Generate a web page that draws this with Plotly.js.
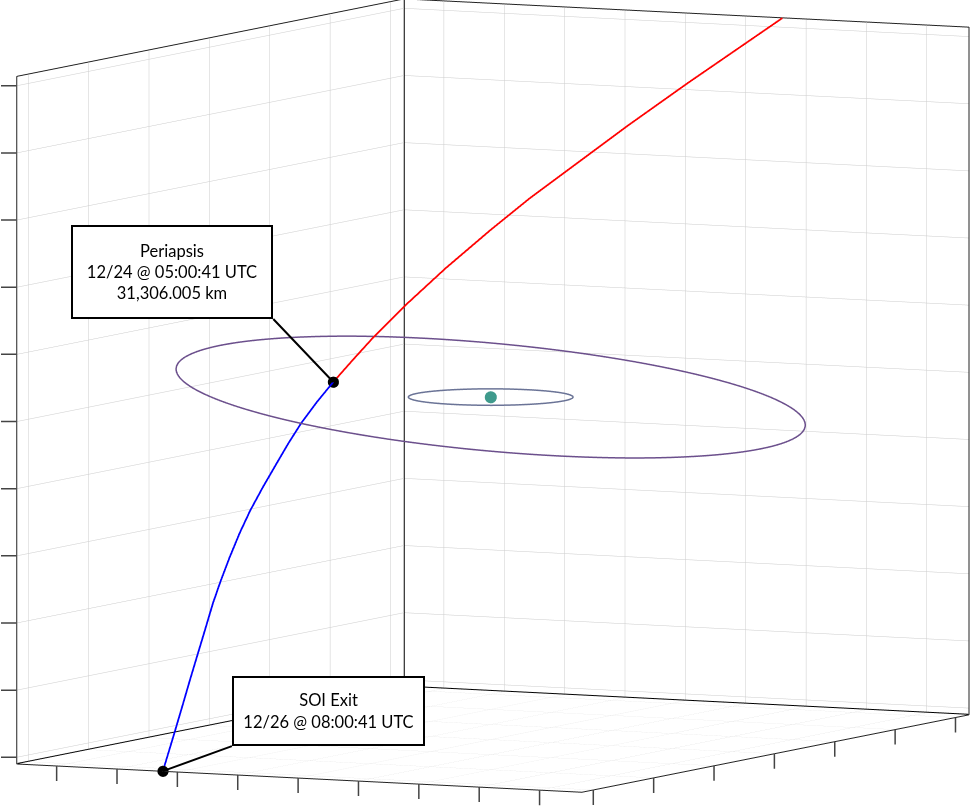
<!DOCTYPE html>
<html><head><meta charset="utf-8">
<script src="https://cdn.plot.ly/plotly-3.0.1.min.js"></script>
<style>html,body{margin:0;padding:0;background:#fff;overflow:hidden}#chart{width:972px;height:809px}</style>
</head><body><div id="chart"></div>
<script>
// ---- data (thousands of km, body-centred frame) ----
const inboundX = [-64.49, -53.33, -45.98, -38.32, -33.47, -28.04, -21.45, -15.14, -9.66, -5.89, -2.03];
const inboundY = [16.08, 6.05, -0.24, -6.37, -10.26, -14.02, -18.20, -21.68, -24.26, -25.70, -27.09];
const inboundZ = [51.37, 42.28, 36.30, 30.08, 26.14, 21.75, 16.43, 11.35, 6.94, 3.93, 0.84];

const outboundX = [-2.03, 1.39, 4.97, 8.37, 11.77, 15.85, 19.76, 23.66, 27.73, 31.63, 35.52, 40.09, 44.65, 48.54, 52.43, 57.51, 63.76];
const outboundY = [-27.09, -28.10, -28.90, -29.31, -29.56, -29.83, -29.94, -29.78, -29.39, -28.89, -28.27, -27.32, -26.39, -25.59, -24.76, -23.69, -22.42];
const outboundZ = [0.84, -1.88, -4.73, -7.43, -10.13, -13.36, -16.44, -19.52, -22.72, -25.78, -28.84, -32.42, -36.00, -39.05, -42.10, -46.07, -50.98];

const orbitRadius = [46.8, 12.2];      // circular orbits
const orbitIncl = [6.6, 0.0];          // deg
const orbitNode = [168, 0];            // deg, longitude of ascending node
const orbitColors = ['#6b4f8c', '#6a7396'];

const bodyX = [0], bodyY = [0], bodyZ = [0];

const eventLabels = ['Periapsis<br>12/24 @ 05:00:41 UTC<br>31,306.005 km', 'SOI Exit<br>12/26 @ 08:00:41 UTC'];

const xRange = [-64.5, 63.8];
const yRange = [-46.6, 47.0];
const zRange = [-51.0, 51.4];
const xTicks = [-60, -40, -20, 0, 20, 40, 60];
const yTicks = [-40, -30, -20, -10, 0, 10, 20, 30, 40];
const zTicks = [-50, -40, -30, -20, -10, 0, 10, 20, 30, 40, 50];

// ---- build traces ----
function orbitTrace(k) {
  const R = orbitRadius[k], i = orbitIncl[k] * Math.PI / 180, O = orbitNode[k] * Math.PI / 180;
  const xs = [], ys = [], zs = [];
  for (let d = 90; d <= 450; d += 2) {
    const t = d * Math.PI / 180;
    const px = R * Math.cos(t), py = R * Math.sin(t);
    xs.push(px * Math.cos(O) - py * Math.cos(i) * Math.sin(O));
    ys.push(px * Math.sin(O) + py * Math.cos(i) * Math.cos(O));
    zs.push(py * Math.sin(i));
  }
  return {type: 'scatter3d', mode: 'lines', x: xs, y: ys, z: zs,
    line: {color: orbitColors[k], width: 3}, hoverinfo: 'skip', showlegend: false};
}

const [x0, x1] = xRange, [y0, y1] = yRange, [z0, z1] = zRange;
const inset = 0.08; // keep the back edges just inside the clip box
const bx0 = x0 + inset, bx1 = x1 - inset, by0 = y0 + inset, by1 = y1 - inset, bz0 = z0 + inset, bz1 = z1 - inset;
// back edges of the box (the other edges come from the axis lines)
const edges = {type: 'scatter3d', mode: 'lines', hoverinfo: 'skip', showlegend: false,
  line: {color: '#000', width: 2},
  x: [bx1, bx0, bx0, null, bx0, bx0],
  y: [by0, by0, by1, null, by0, by0],
  z: [bz0, bz0, bz0, null, bz0, bz1]};

const nIn = inboundX.length - 1, nOut = outboundX.length - 1;
const traces = [
  edges,
  orbitTrace(0), orbitTrace(1),
  {type: 'scatter3d', mode: 'markers', x: bodyX, y: bodyY, z: bodyZ,
   marker: {color: '#3f9a8c', size: 7}, hoverinfo: 'skip', showlegend: false},
  {type: 'scatter3d', mode: 'lines', x: inboundX, y: inboundY, z: inboundZ,
   line: {color: '#ff0000', width: 3.5}, hoverinfo: 'skip', showlegend: false},
  {type: 'scatter3d', mode: 'lines', x: outboundX, y: outboundY, z: outboundZ,
   line: {color: '#0000ff', width: 3.5}, hoverinfo: 'skip', showlegend: false},
  {type: 'scatter3d', mode: 'markers',
   x: [inboundX[nIn], outboundX[nOut]], y: [inboundY[nIn], outboundY[nOut]], z: [inboundZ[nIn], outboundZ[nOut]],
   marker: {color: '#000', size: 6.5}, hoverinfo: 'skip', showlegend: false}
];

const axisCommon = {
  showticklabels: false, title: {text: ''}, showbackground: false,
  showgrid: true, gridcolor: '#cccccc', gridwidth: 1,
  showline: true, linecolor: '#222', linewidth: 2, mirror: true,
  ticks: '', zeroline: false, showspikes: false
};

// tick marks drawn as arrow-only annotations
function tickMark(x, y, z, ax, ay) {
  return {x: x, y: y, z: z, text: '\u00a0', showarrow: true, arrowhead: 0, arrowwidth: 1.5,
    arrowcolor: '#444', ax: ax, ay: ay, standoff: 0, borderpad: 0, font: {size: 2}};
}
const tickAnns = [];
zTicks.forEach(v => tickAnns.push(tickMark(x1, y0, v, -18, 0)));
yTicks.forEach(v => tickAnns.push(tickMark(x1, v, z0, 0, 17)));
xTicks.forEach(v => tickAnns.push(tickMark(v, y1, z0, 0, 17)));

const annFont = {family: 'Lato, "Open Sans", sans-serif', size: 16.5, color: '#000'};
const eventAnns = [
  {x: inboundX[nIn], y: inboundY[nIn], z: inboundZ[nIn], text: eventLabels[0],
   showarrow: true, arrowhead: 0, arrowwidth: 2, arrowcolor: '#000',
   ax: -60, ay: -63, xanchor: 'right', yanchor: 'bottom',
   bgcolor: '#fff', bordercolor: '#000', borderwidth: 2, borderpad: 4,
   width: 190, height: 82, font: annFont},
  {x: outboundX[nOut], y: outboundY[nOut], z: outboundZ[nOut], text: eventLabels[1],
   showarrow: true, arrowhead: 0, arrowwidth: 2, arrowcolor: '#000',
   ax: 69, ay: -25, xanchor: 'left', yanchor: 'bottom',
   bgcolor: '#fff', bordercolor: '#000', borderwidth: 2, borderpad: 4,
   width: 181, height: 58, font: annFont}
];

const aspectScale = 1.6685 / 100;
const camCenter = {x: 0.00964, y: -0.01435, z: -0.02195};
const viewDir = [0.890, 0.445, 0.1];
const layout = {
  width: 972, height: 809, margin: {l: 0, r: 0, t: 0, b: 0},
  paper_bgcolor: '#fff', showlegend: false, hovermode: false,
  scene: {
    domain: {x: [0, 1], y: [0, 1]},
    xaxis: Object.assign({}, axisCommon, {range: xRange, tickvals: xTicks}),
    yaxis: Object.assign({}, axisCommon, {range: yRange, tickvals: yTicks}),
    zaxis: Object.assign({}, axisCommon, {range: zRange, tickvals: zTicks}),
    aspectmode: 'manual',
    aspectratio: {x: (x1 - x0) * aspectScale, y: (y1 - y0) * aspectScale, z: (z1 - z0) * aspectScale},
    camera: {eye: {x: camCenter.x + 3 * viewDir[0], y: camCenter.y + 3 * viewDir[1], z: camCenter.z + 3 * viewDir[2]},
             up: {x: 0, y: 0, z: 1}, center: camCenter, projection: {type: 'orthographic'}},
    annotations: tickAnns.concat(eventAnns)
  }
};

Plotly.newPlot('chart', traces, layout, {displayModeBar: false});
</script>
</body></html>
